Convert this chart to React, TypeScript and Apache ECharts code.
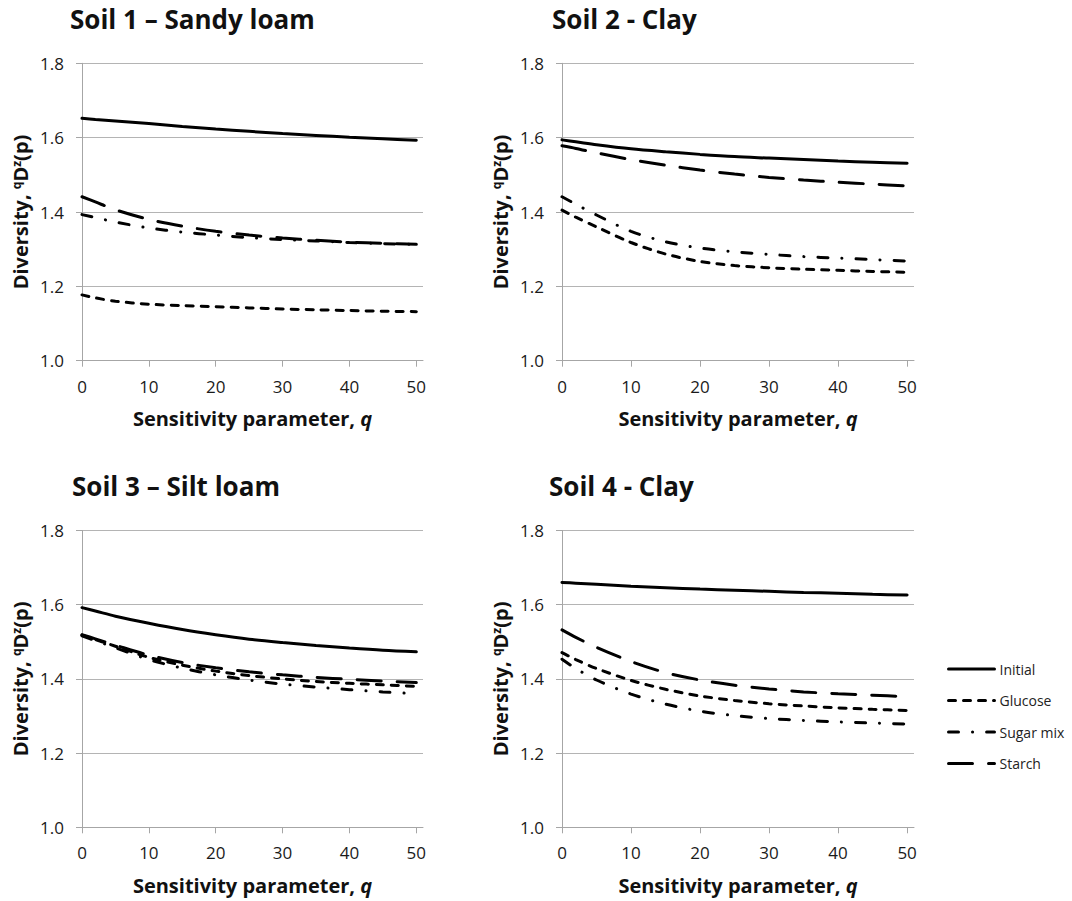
import React, { useEffect, useRef } from 'react';
import * as echarts from 'echarts';

const qValues = [0, 2, 5, 10, 15, 20, 25, 30, 35, 40, 45, 50];
const seriesNames = ['Initial', 'Glucose', 'Sugar mix', 'Starch'];
const panelTitles = ['Soil 1 – Sandy loam', 'Soil 2 - Clay', 'Soil 3 – Silt loam', 'Soil 4 - Clay'];
const xTickValues = [0, 10, 20, 30, 40, 50];

const soil1Initial = [1.652, 1.649, 1.645, 1.638, 1.630, 1.623, 1.617, 1.611, 1.606, 1.601, 1.597, 1.593];
const soil1Glucose = [1.177, 1.169, 1.160, 1.152, 1.148, 1.145, 1.142, 1.139, 1.137, 1.135, 1.133, 1.132];
const soil1SugarMix = [1.393, 1.385, 1.373, 1.357, 1.346, 1.338, 1.331, 1.326, 1.322, 1.318, 1.315, 1.313];
const soil1Starch = [1.441, 1.427, 1.406, 1.380, 1.362, 1.348, 1.338, 1.330, 1.324, 1.319, 1.316, 1.313];

const soil2Initial = [1.594, 1.589, 1.581, 1.570, 1.562, 1.555, 1.549, 1.545, 1.541, 1.537, 1.534, 1.531];
const soil2Glucose = [1.405, 1.386, 1.360, 1.318, 1.287, 1.267, 1.256, 1.250, 1.246, 1.243, 1.240, 1.238];
const soil2SugarMix = [1.441, 1.421, 1.392, 1.348, 1.320, 1.303, 1.293, 1.286, 1.280, 1.276, 1.272, 1.268];
const soil2Starch = [1.578, 1.571, 1.559, 1.541, 1.526, 1.513, 1.502, 1.493, 1.486, 1.480, 1.475, 1.470];

const soil3Initial = [1.592, 1.583, 1.569, 1.550, 1.533, 1.519, 1.507, 1.498, 1.490, 1.483, 1.477, 1.473];
const soil3Glucose = [1.518, 1.506, 1.488, 1.458, 1.437, 1.421, 1.409, 1.400, 1.393, 1.388, 1.384, 1.380];
const soil3SugarMix = [1.516, 1.503, 1.484, 1.452, 1.429, 1.411, 1.397, 1.386, 1.378, 1.371, 1.365, 1.360];
const soil3Starch = [1.519, 1.508, 1.491, 1.464, 1.444, 1.430, 1.419, 1.411, 1.404, 1.399, 1.394, 1.390];

const soil4Initial = [1.660, 1.658, 1.655, 1.650, 1.646, 1.642, 1.639, 1.636, 1.633, 1.631, 1.628, 1.626];
const soil4Glucose = [1.471, 1.452, 1.428, 1.396, 1.372, 1.354, 1.342, 1.333, 1.327, 1.322, 1.318, 1.315];
const soil4SugarMix = [1.453, 1.428, 1.397, 1.359, 1.332, 1.313, 1.301, 1.293, 1.288, 1.284, 1.281, 1.278];
const soil4Starch = [1.532, 1.512, 1.485, 1.447, 1.417, 1.397, 1.383, 1.373, 1.365, 1.360, 1.356, 1.352];

const panels = [
  [soil1Initial, soil1Glucose, soil1SugarMix, soil1Starch],
  [soil2Initial, soil2Glucose, soil2SugarMix, soil2Starch],
  [soil3Initial, soil3Glucose, soil3SugarMix, soil3Starch],
  [soil4Initial, soil4Glucose, soil4SugarMix, soil4Starch],
];

const FONT = '"Open Sans", "DejaVu Sans", sans-serif';
const dashTypes: any[] = ['solid', [7, 8], [10, 14, 0.1, 14], [24, 16]];

const gridBoxes = [
  { left: 82, top: 63.3, width: 341, height: 297.4 },
  { left: 562, top: 63.3, width: 352, height: 297.4 },
  { left: 82, top: 530.5, width: 341, height: 296.8 },
  { left: 562, top: 530.5, width: 352, height: 296.8 },
];
const titlePos = [
  { left: 70, top: 6 },
  { left: 552, top: 6 },
  { left: 72, top: 473 },
  { left: 549, top: 473 },
];

export default function App() {
  const ref = useRef<HTMLDivElement>(null);
  useEffect(() => {
    if (!ref.current) return;
    const chart = echarts.init(ref.current, undefined, { renderer: 'svg' });
    const axisColor = '#a6a6a6';
    const option: any = {
      animation: false,
      backgroundColor: '#ffffff',
      title: panelTitles.map((t, i) => ({
        text: t,
        left: titlePos[i].left,
        top: titlePos[i].top,
        padding: 0,
        textStyle: { fontFamily: FONT, fontSize: 26, fontWeight: 'bold', color: '#111' },
      })),
      legend: {
        data: seriesNames,
        orient: 'vertical',
        left: 947,
        top: 662,
        itemWidth: 46,
        itemHeight: 14,
        itemGap: 17.5,
        padding: 0,
        textStyle: { fontFamily: FONT, fontSize: 14, color: '#222' },
        lineStyle: { width: 3 },
        itemStyle: { color: 'rgba(0,0,0,0)', borderColor: 'rgba(0,0,0,0)', borderWidth: 0, opacity: 0 },
      },
      grid: gridBoxes.map((g) => ({ ...g, containLabel: false })),
      xAxis: gridBoxes.map((_, i) => ({
        type: 'value',
        gridIndex: i,
        min: 0,
        max: 51,
        interval: 10,
        name: 'Sensitivity parameter, {i|q}',
        nameLocation: 'middle',
        nameGap: 48,
        nameTextStyle: {
          fontFamily: FONT, fontSize: 20, fontWeight: 'bold', color: '#111',
          rich: { i: { fontFamily: FONT, fontSize: 20, fontWeight: 'bold', fontStyle: 'italic', color: '#111' } },
        },
        axisLine: { show: true, onZero: false, lineStyle: { color: axisColor, width: 1 } },
        axisTick: { show: true, inside: false, length: 6, lineStyle: { color: axisColor, width: 1 }, customValues: xTickValues },
        axisLabel: { fontFamily: FONT, fontSize: 17, color: '#1a1a1a', margin: 17, customValues: xTickValues },
        splitLine: { show: false },
      })),
      yAxis: gridBoxes.map((_, i) => ({
        type: 'value',
        gridIndex: i,
        min: 1.0,
        max: 1.8,
        interval: 0.2,
        name: 'Diversity, {s|q}D{s|z}(p)',
        nameLocation: 'middle',
        nameGap: 52,
        nameRotate: 90,
        nameTextStyle: {
          fontFamily: FONT, fontSize: 20, fontWeight: 'bold', color: '#111',
          rich: { s: { fontFamily: FONT, fontSize: 12, fontWeight: 'bold', color: '#111', verticalAlign: 'top' } },
        },
        axisLine: { show: true, onZero: false, lineStyle: { color: axisColor, width: 1 } },
        axisTick: { show: true, inside: false, length: 6, lineStyle: { color: axisColor, width: 1 } },
        axisLabel: {
          fontFamily: FONT, fontSize: 17, color: '#1a1a1a', margin: 18,
          formatter: (v: number) => v.toFixed(1),
        },
        splitLine: { show: true, lineStyle: { color: '#b4b4b4', width: 1 } },
      })),
      series: panels.flatMap((panel, pi) =>
        panel.map((vals, si) => ({
          name: seriesNames[si],
          type: 'line',
          xAxisIndex: pi,
          yAxisIndex: pi,
          data: qValues.map((q, k) => [q, vals[k]]),
          symbol: 'none',
          showSymbol: false,
          smooth: 0.3,
          lineStyle: { color: '#000', width: 3, type: dashTypes[si], cap: 'round' },
          itemStyle: { color: '#000' },
          emphasis: { disabled: true },
        }))
      ),
    };
    chart.setOption(option);
    return () => chart.dispose();
  }, []);
  return (
    <div
      ref={ref}
      style={{ position: 'fixed', left: 0, top: 0, width: 1072, height: 901, background: '#fff' }}
    />
  );
}
